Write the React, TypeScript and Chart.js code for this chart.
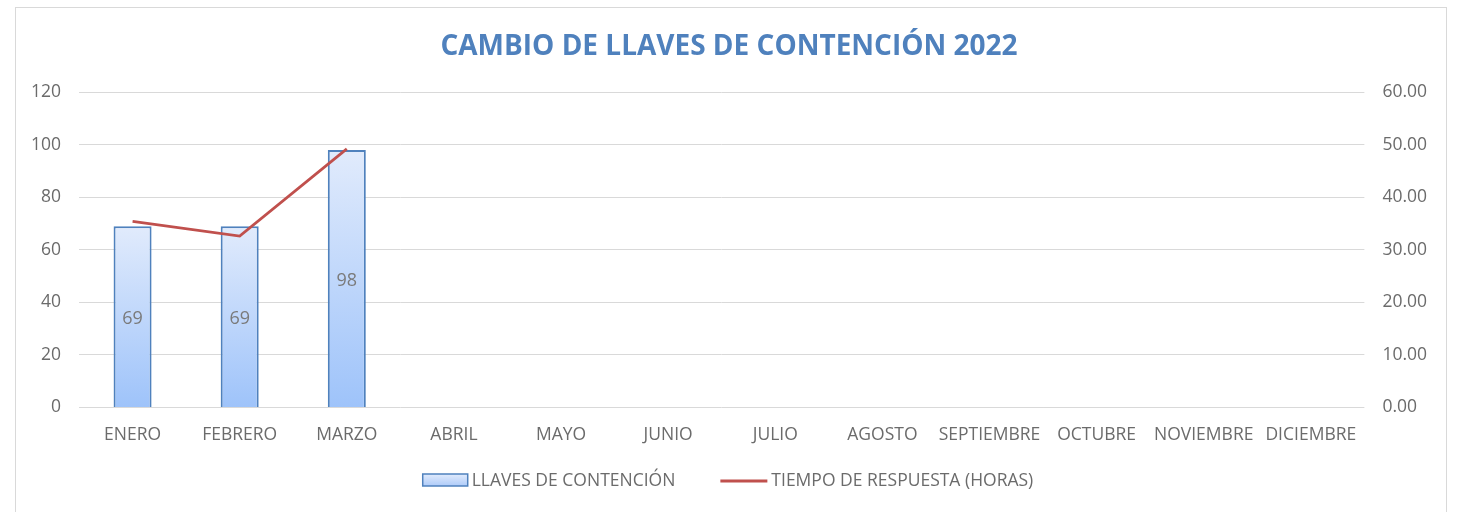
import React, { useEffect, useRef } from "react";
import { Chart, registerables } from "chart.js";

Chart.register(...registerables);

const categories = ["ENERO", "FEBRERO", "MARZO", "ABRIL", "MAYO", "JUNIO", "JULIO", "AGOSTO", "SEPTIEMBRE", "OCTUBRE", "NOVIEMBRE", "DICIEMBRE"];
const llaves: (number | null)[] = [69, 69, 98, null, null, null, null, null, null, null, null, null];
const tiempo: (number | null)[] = [35.4, 32.6, 49.2, null, null, null, null, null, null, null, null, null];
const leftTicks = [0, 20, 40, 60, 80, 100, 120];
const rightTicks = [0, 10, 20, 30, 40, 50, 60];
const seriesNames = ["LLAVES DE CONTENCIÓN", "TIEMPO DE RESPUESTA (HORAS)"];

const TEXT = "#6b6b6b";
const FONT = "'Open Sans', sans-serif";
const FS = 17.5;
const BAR_BORDER = "#4f81bd";
const LINE_COLOR = "#c0504d";

const barLabels = {
  id: "barLabels",
  afterDatasetsDraw(chart: any) {
    const meta = chart.getDatasetMeta(1);
    const ctx = chart.ctx;
    ctx.save();
    ctx.fillStyle = "#7a7a7a";
    ctx.font = `18px ${FONT}`;
    ctx.textAlign = "center";
    ctx.textBaseline = "middle";
    meta.data.forEach((el: any, i: number) => {
      const v = llaves[i];
      if (v == null) return;
      ctx.fillText(String(v), el.x, (el.y + el.base) / 2 + 2);
    });
    ctx.restore();
  },
};

const customLegend = {
  id: "customLegend",
  afterDraw(chart: any) {
    const ctx = chart.ctx;
    ctx.save();
    ctx.font = `${FS}px ${FONT}`;
    const boxW = 45;
    const lineW = 47;
    const gapText = 4;
    const gapItems = 45;
    const t1 = ctx.measureText(seriesNames[0]).width;
    const t2 = ctx.measureText(seriesNames[1]).width;
    const total = boxW + gapText + t1 + gapItems + lineW + gapText + t2;
    let x = chart.width / 2 - 3 - total / 2;
    const cy = chart.height - 33;
    const g = ctx.createLinearGradient(0, cy - 6, 0, cy + 6);
    g.addColorStop(0, "#e1ebfc");
    g.addColorStop(1, "#aecbf9");
    ctx.fillStyle = g;
    ctx.fillRect(x, cy - 6, boxW, 12);
    ctx.strokeStyle = BAR_BORDER;
    ctx.lineWidth = 1.5;
    ctx.strokeRect(x, cy - 6, boxW, 12);
    x += boxW + gapText;
    ctx.fillStyle = TEXT;
    ctx.textAlign = "left";
    ctx.textBaseline = "middle";
    ctx.fillText(seriesNames[0], x, cy + 1);
    x += t1 + gapItems;
    ctx.strokeStyle = LINE_COLOR;
    ctx.lineWidth = 3;
    ctx.beginPath();
    ctx.moveTo(x, cy + 1);
    ctx.lineTo(x + lineW, cy + 1);
    ctx.stroke();
    x += lineW + gapText;
    ctx.fillText(seriesNames[1], x, cy + 1);
    ctx.restore();
  },
};

export default function App() {
  const ref = useRef<HTMLCanvasElement>(null);
  useEffect(() => {
    if (!ref.current) return;
    const chart = new Chart(ref.current, {
      data: {
        labels: categories,
        datasets: [
          {
            type: "line",
            label: seriesNames[1],
            data: tiempo,
            yAxisID: "y1",
            borderColor: LINE_COLOR,
            backgroundColor: LINE_COLOR,
            borderWidth: 2.75,
            pointRadius: 0,
            tension: 0,
            order: 0,
          },
          {
            type: "bar",
            label: seriesNames[0],
            data: llaves,
            yAxisID: "y",
            borderColor: BAR_BORDER,
            borderWidth: 2,
            barPercentage: 0.355,
            categoryPercentage: 1,
            order: 1,
            backgroundColor: (c: any) => {
              const chart = c.chart;
              const area = chart.chartArea;
              if (!area || c.type !== "data") return "#c5d9f9";
              const yScale = chart.scales.y;
              const v = c.raw;
              if (v == null) return "#c5d9f9";
              const top = yScale.getPixelForValue(v);
              const bot = yScale.getPixelForValue(0);
              const g = chart.ctx.createLinearGradient(0, top, 0, bot);
              g.addColorStop(0, "#e1ebfc");
              g.addColorStop(1, "#9ec3fa");
              return g;
            },
          },
        ] as any,
      },
      options: {
        animation: false,
        responsive: false,
        maintainAspectRatio: false,
        layout: { padding: { left: -3, right: 1, top: 0, bottom: 50.5 } },
        scales: {
          x: {
            grid: { display: false, drawTicks: false },
            border: { display: false },
            ticks: { color: TEXT, font: { family: FONT, size: FS }, maxRotation: 0, autoSkip: false, padding: 17 },
          },
          y: {
            position: "left",
            min: 0,
            max: 120,
            afterBuildTicks: (s: any) => { s.ticks = leftTicks.map((v) => ({ value: v })); },
            grid: { color: "#d9d9d9", drawTicks: false, lineWidth: 1 },
            border: { display: false },
            ticks: { color: TEXT, font: { family: FONT, size: FS }, padding: 18 },
          },
          y1: {
            position: "right",
            min: 0,
            max: 60,
            afterBuildTicks: (s: any) => { s.ticks = rightTicks.map((v) => ({ value: v })); },
            grid: { display: false, drawTicks: false },
            border: { display: false },
            ticks: { color: TEXT, font: { family: FONT, size: FS }, padding: 18, callback: (v: any) => Number(v).toFixed(2) },
          },
        },
        plugins: {
          title: {
            display: true,
            text: "CAMBIO DE LLAVES DE CONTENCIÓN 2022",
            color: "#4f81bd",
            font: { family: FONT, size: 28, weight: "bold" },
            padding: { top: 22.5, bottom: 28 },
          },
          tooltip: { enabled: false },
          legend: { display: false },
        },
      } as any,
      plugins: [barLabels, customLegend],
    });
    return () => chart.destroy();
  }, []);

  return (
    <div style={{ position: "fixed", left: 15, top: 7, width: 1432, height: 520, border: "1px solid #d9d9d9", borderBottom: "none", background: "#fff", boxSizing: "border-box" }}>
      <canvas ref={ref} width={1430} height={505} style={{ display: "block" }} />
    </div>
  );
}
